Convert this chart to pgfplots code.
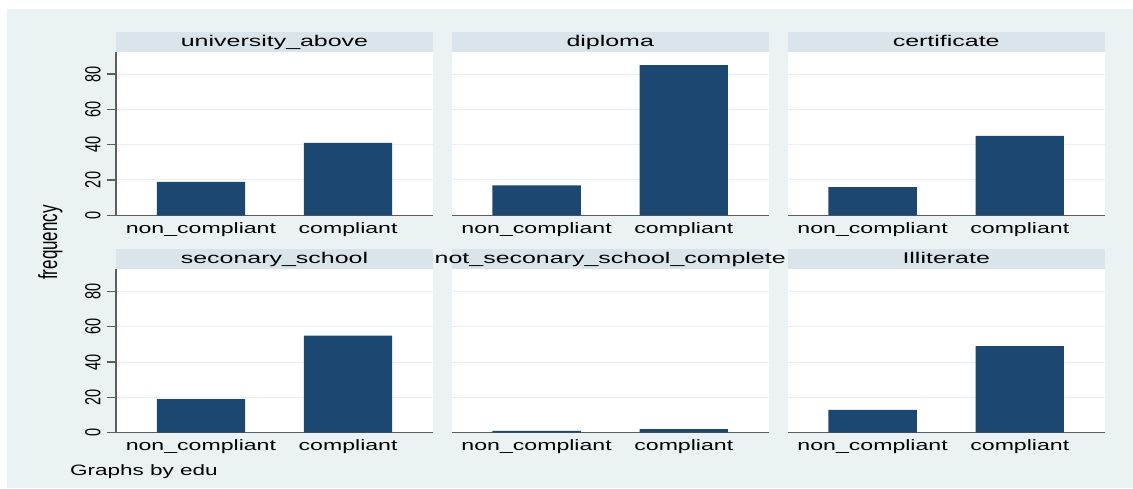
\documentclass[border=0pt]{standalone}
\usepackage{pgfplots}
\pgfplotsset{compat=1.18}
\usepackage{pgfplotstable}
\usepackage{fontspec}
\setmainfont{Liberation Sans}
\usepackage{graphicx}

\definecolor{regionbg}{HTML}{EAF2F3}
\definecolor{stripbg}{HTML}{D9E5EB}
\definecolor{gridcol}{HTML}{E8F0F2}
\definecolor{barcol}{HTML}{1C4770}
\definecolor{axiscol}{HTML}{5E5E5E}

% horizontally / vertically stretched text
\newcommand{\hs}[2][1.54]{\scalebox{#1}[1]{#2}}
\newcommand{\vs}[1]{\scalebox{1}[1.5]{#1}}
\newcommand{\catfont}{\fontsize{15}{18}\selectfont}
\newcommand{\titlefont}{\fontsize{15.5}{18}\selectfont}
\newcommand{\tickfont}{\fontsize{14.5}{17}\selectfont}

% frequency of compliance by education level
\pgfplotstableread{
x  univ diploma cert sec notsec illit
1  19   17      16   19  1      13
2  41   85      45   55  2      49
}\freq

\pgfplotsset{
  panel/.style={
    scale only axis, width=317pt, height=163.3pt, anchor=south west,
    xmin=0.423, xmax=2.577, ymin=0, ymax=92.5,
    axis lines*=left,
    axis line style={-, draw=axiscol, line width=1.4pt},
    axis background/.style={fill=white},
    xtick={1,2},
    xticklabels={\hs{non\_compliant},\hs{compliant}},
    xtick style={draw=none},
    xticklabel style={font=\catfont, anchor=base, inner sep=0pt, yshift=-8.7pt},
    ytick={0,20,40,60,80},
    ymajorgrids, grid style={draw=gridcol, line width=1pt},
    tick align=outside, major tick length=9.3pt,
    ytick style={draw=axiscol, line width=1.2pt},
    ybar, bar width=0.6,
  },
  leftcol/.style={
    yticklabels={\vs{0},\vs{20},\vs{40},\vs{60},\vs{80}},
    yticklabel style={font=\tickfont, rotate=90, anchor=south, inner sep=0pt},
    yticklabel shift=6pt,
  },
  innercol/.style={
    y axis line style={draw=none},
    ytick style={draw=none},
    yticklabels={},
  },
  bars/.style={fill=barcol, draw=none},
}

\begin{document}
\begin{tikzpicture}
\fill[white] (0pt,0pt) rectangle (1133pt,488pt);
\fill[regionbg] (7pt,0pt) rectangle (1133pt,479pt);

\begin{axis}[panel, leftcol, at={(116pt,272.7pt)}]
\addplot[bars] table[x=x, y=univ] {\freq};
\end{axis}
\begin{axis}[panel, innercol, at={(451.7pt,272.7pt)}]
\addplot[bars] table[x=x, y=diploma] {\freq};
\end{axis}
\begin{axis}[panel, innercol, at={(787.7pt,272.7pt)}]
\addplot[bars] table[x=x, y=cert] {\freq};
\end{axis}
\begin{axis}[panel, leftcol, at={(116pt,55.3pt)}]
\addplot[bars] table[x=x, y=sec] {\freq};
\end{axis}
\begin{axis}[panel, innercol, at={(451.7pt,55.3pt)}]
\addplot[bars] table[x=x, y=notsec] {\freq};
\end{axis}
\begin{axis}[panel, innercol, at={(787.7pt,55.3pt)}]
\addplot[bars] table[x=x, y=illit] {\freq};
\end{axis}

% panel header strips
\begin{scope}[x=1pt, y=1pt]
\foreach \X/\Y/\T in {116/436/university\_above, 451.7/436/diploma, 787.7/436/certificate,
                      116/219/seconary\_school, 451.7/219/not\_seconary\_school\_complete, 787.7/219/Illiterate}{
  \fill[stripbg] (\X,\Y) rectangle ({\X+317},{\Y+20.3});
  \node[anchor=base, inner sep=0pt, font=\titlefont] at ({\X+158.5},{\Y+5.7}) {\hs[1.61]{\T}};
}
\node[rotate=90, inner sep=0pt, font=\fontsize{17}{20}\selectfont] at (50.3,245.5) {\scalebox{1}[1.54]{frequency}};
\node[anchor=base west, inner sep=0pt, font=\catfont] at (70,13) {\hs[1.5]{Graphs by edu}};
\end{scope}
\end{tikzpicture}
\end{document}
